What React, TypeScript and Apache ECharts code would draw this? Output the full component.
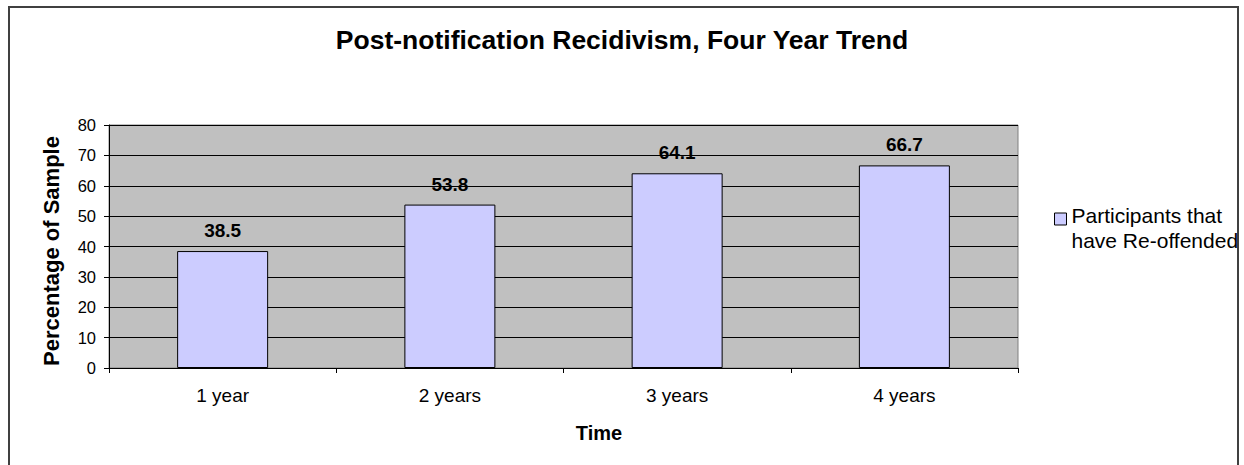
import React, { useEffect, useRef } from "react";
import * as echarts from "echarts";

const categories = ["1 year", "2 years", "3 years", "4 years"];
const reoffended = [38.5, 53.8, 64.1, 66.7];
const yTicks = { min: 0, max: 80, interval: 10 };
const seriesName = "Participants that have Re-offended";
const legendLines = ["Participants that", "have Re-offended"];
const titleText = "Post-notification Recidivism, Four Year Trend";
const xTitle = "Time";
const yTitle = "Percentage of Sample";

const FONT = "'Liberation Sans', Arial, sans-serif";

export default function App() {
  const ref = useRef<HTMLDivElement>(null);
  useEffect(() => {
    if (!ref.current) return;
    const chart = echarts.init(ref.current, undefined, { renderer: "svg" });
    chart.setOption({
      animation: false,
      backgroundColor: "#ffffff",
      textStyle: { fontFamily: FONT, color: "#000" },
      title: {
        text: titleText,
        left: "center",
        top: 26,
        padding: 0,
        textStyle: { fontFamily: FONT, fontSize: 26.5, fontWeight: "bold", color: "#000" },
      },
      graphic: [
        {
          type: "rect",
          shape: { x: 9, y: 7, width: 1229, height: 475 },
          style: { fill: "none", stroke: "#404040", lineWidth: 2 },
          silent: true,
          z: 100,
        },
      ],
      legend: {
        orient: "vertical",
        left: 1054,
        top: 203,
        padding: 0,
        itemWidth: 12,
        itemHeight: 30,
        itemGap: 4,
        icon: "path://M0,0H12V12H0Z M12,30",
        formatter: () => legendLines.join("\n"),
        itemStyle: { borderColor: "#000", borderWidth: 1 },
        textStyle: {
          fontFamily: FONT,
          fontSize: 21,
          lineHeight: 25,
          color: "#000",
        },
        data: [seriesName],
      },
      grid: {
        left: 109,
        right: 226,
        top: 125,
        bottom: 97,
        show: true,
        backgroundColor: "#C0C0C0",
        borderColor: "#808080",
        borderWidth: 1,
      },
      xAxis: {
        type: "category",
        data: categories,
        name: xTitle,
        nameLocation: "middle",
        nameGap: 55,
        nameTextStyle: {
          fontFamily: FONT,
          fontSize: 20,
          fontWeight: "bold",
          color: "#000",
          padding: [0, 0, 0, 71],
        },
        axisLine: { show: true, lineStyle: { color: "#000", width: 1 } },
        axisTick: { show: true, alignWithLabel: false, length: 5, lineStyle: { color: "#000" } },
        axisLabel: { fontFamily: FONT, fontSize: 19, color: "#000", margin: 18 },
        splitLine: { show: false },
      },
      yAxis: {
        type: "value",
        min: yTicks.min,
        max: yTicks.max,
        interval: yTicks.interval,
        name: yTitle,
        nameLocation: "middle",
        nameRotate: 90,
        nameGap: 47,
        nameTextStyle: {
          fontFamily: FONT,
          fontSize: 22,
          fontWeight: "bold",
          color: "#000",
          padding: [0, 9, 0, 0],
        },
        axisLine: { show: true, lineStyle: { color: "#000", width: 1 } },
        axisTick: { show: true, length: 5, lineStyle: { color: "#000" } },
        axisLabel: { fontFamily: FONT, fontSize: 16.5, color: "#000", margin: 13 },
        splitLine: { show: true, lineStyle: { color: "#000", width: 1 } },
      },
      series: [
        {
          name: seriesName,
          type: "bar",
          data: reoffended,
          barWidth: 91,
          itemStyle: { color: "#CCCCFF", borderColor: "#000", borderWidth: 1 },
          label: {
            show: true,
            position: "top",
            distance: 11,
            fontFamily: FONT,
            fontSize: 19,
            fontWeight: "bold",
            color: "#000",
          },
        },
      ],
    });
    return () => chart.dispose();
  }, []);
  return (
    <div
      ref={ref}
      style={{ position: "fixed", left: 0, top: 0, width: 1244, height: 465 }}
    />
  );
}
